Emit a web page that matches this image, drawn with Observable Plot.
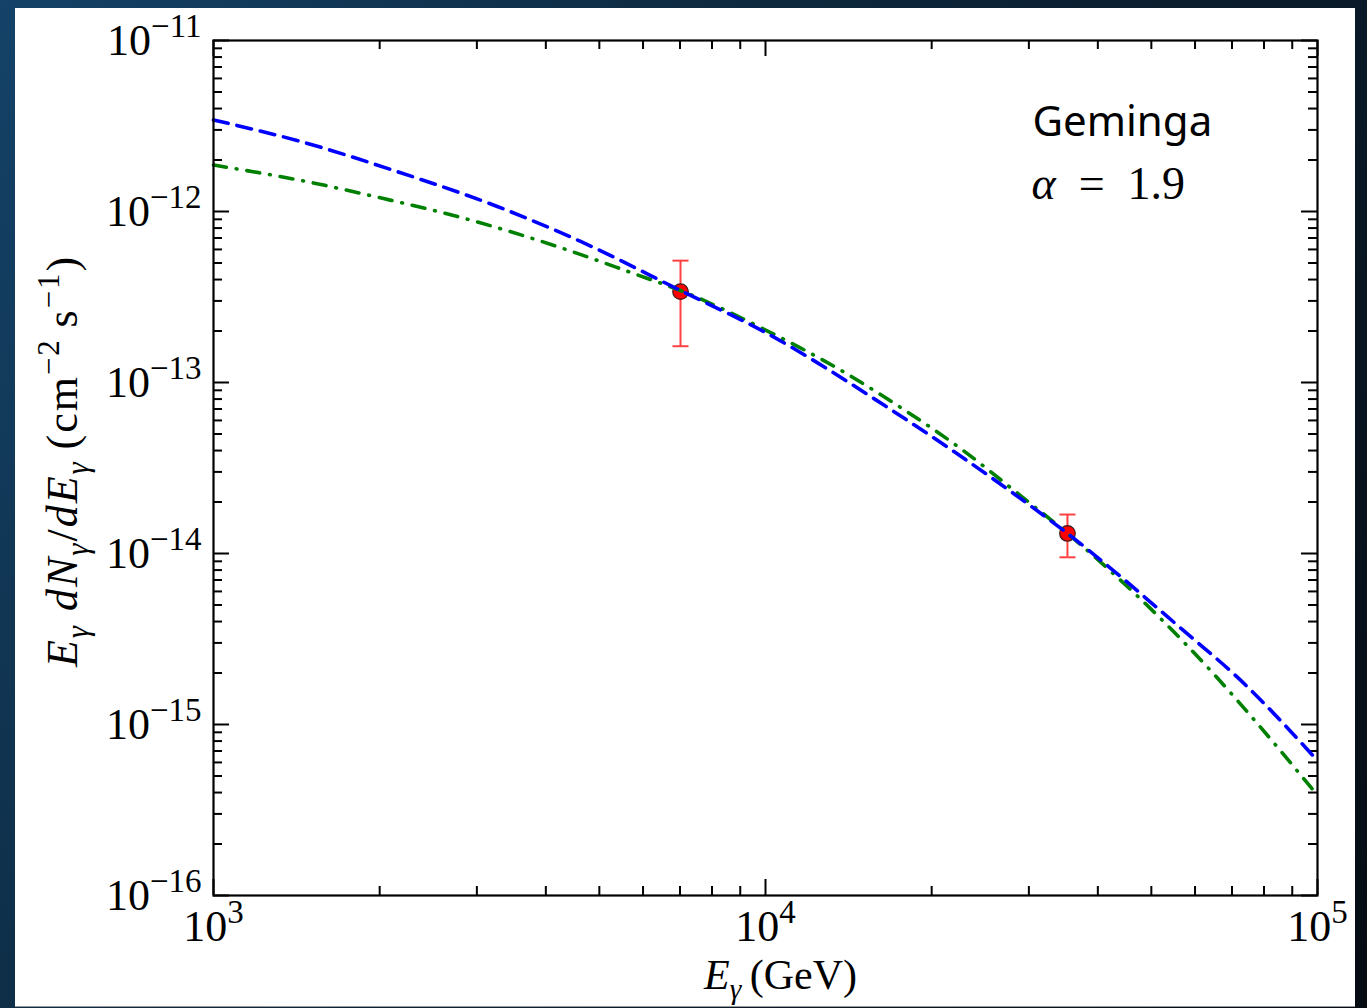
<!DOCTYPE html>
<html><head><meta charset="utf-8">
<script src="https://cdn.jsdelivr.net/npm/d3@7"></script>
<script src="https://cdn.jsdelivr.net/npm/@observablehq/plot@0.6"></script>
<style>
html,body{margin:0;padding:0;}
body{width:1367px;height:1008px;overflow:hidden;position:relative;
  background:linear-gradient(120deg,#144268 0%,#0d283d 40%,#060b12 100%);}
#panel{position:absolute;left:15px;top:8px;width:1340px;height:998px;background:#fff;border-bottom:1px solid #9a9a9a;}
</style></head><body><div id="panel"></div>
<script>
// ---- data ----
const blueE = [1000, 1455, 2153, 3266, 4624, 7015, 10000, 16634, 27797, 35237, 57148, 72611, 100000];
const blueF = [3.43e-12, 2.54e-12, 1.71e-12, 1.07e-12, 6.68e-13, 3.45e-13, 1.96e-13, 7.15e-14, 2.31e-14, 1.31e-14, 3.55e-15, 1.81e-15, 6.15e-16];
const greenE = [1000, 1499, 2032, 2721, 4252, 5767, 7015, 10212, 13505, 17565, 22560, 28970, 35240, 51950, 64010, 77870, 100000];
const greenF = [1.87e-12, 1.48e-12, 1.19e-12, 9.48e-13, 6.15e-13, 4.34e-13, 3.45e-13, 1.96e-13, 1.21e-13, 7.15e-14, 4.11e-14, 2.18e-14, 1.31e-14, 4.17e-15, 2.07e-15, 1.01e-15, 3.85e-16];
const pointE  = [7015, 35240];
const pointF  = [3.40e-13, 1.31e-14];
const pointLo = [1.63e-13, 9.5e-15];
const pointHi = [5.16e-13, 1.69e-14];
const xMajor = [1e3, 1e4, 1e5];
const xTickExp = ["3", "4", "5"];
const yMajor = [1e-16, 1e-15, 1e-14, 1e-13, 1e-12, 1e-11];
const yTickExp = ["\u221216", "\u221215", "\u221214", "\u221213", "\u221212", "\u221211"];
const xLabel = "E_\u03b3 (GeV)";
const yLabel = "E_\u03b3 dN_\u03b3/dE_\u03b3 (cm^\u22122 s^\u22121)";
const sourceName = "Geminga";
const alphaText = "\u03b1 = 1.9";

// ---- build ----
const blue = blueE.map((e, i) => ({E: e, F: blueF[i]}));
const green = greenE.map((e, i) => ({E: e, F: greenF[i]}));
const pts = pointE.map((e, i) => ({E: e, F: pointF[i], lo: pointLo[i], hi: pointHi[i]}));
const xMinor = d3.scaleLog().domain([1e3, 1e5]).ticks().filter(v => !xMajor.some(m => Math.abs(m - v) / m < 1e-9));
const yMinor = d3.scaleLog().domain([1e-16, 1e-11]).ticks().filter(v => !yMajor.some(m => Math.abs(m - v) / m < 1e-9));

const W = 1340, H = 998, mL = 198, mR = 38, mT = 32, mB = 111;
const iw = W - mL - mR, ih = H - mT - mB;
const MAJ = 16, MIN = 9;
const serif = "'Liberation Serif', 'DejaVu Serif', serif";
const tickStyle = {stroke: "#000", strokeWidth: 2};
const capSymbol = {draw(ctx, size) { const r = Math.sqrt(size / Math.PI); ctx.moveTo(-r, 0); ctx.lineTo(r, 0); }};
const errColor = "#ff4040";

const chart = Plot.plot({
  width: W, height: H, marginLeft: mL, marginRight: mR, marginTop: mT, marginBottom: mB,
  style: {background: "transparent", fontFamily: serif, color: "#000"},
  x: {type: "log", domain: [1e3, 1e5]},
  y: {type: "log", domain: [1e-16, 1e-11]},
  marks: [
    // ticks (inward, all four sides)
    Plot.ruleY(yMajor, {...tickStyle, insetRight: iw - MAJ}),
    Plot.ruleY(yMajor, {...tickStyle, insetLeft: iw - MAJ}),
    Plot.ruleY(yMinor, {...tickStyle, insetRight: iw - MIN}),
    Plot.ruleY(yMinor, {...tickStyle, insetLeft: iw - MIN}),
    Plot.ruleX(xMajor, {...tickStyle, insetTop: ih - MAJ}),
    Plot.ruleX(xMajor, {...tickStyle, insetBottom: ih - MAJ}),
    Plot.ruleX(xMinor, {...tickStyle, insetTop: ih - MIN}),
    Plot.ruleX(xMinor, {...tickStyle, insetBottom: ih - MIN}),
    Plot.axisX(xMajor, {tickSize: 0, tickPadding: 14, fontSize: 44, label: null,
      tickFormat: d => "10^" + xTickExp[xMajor.indexOf(d)]}),
    Plot.axisY(yMajor, {tickSize: 0, tickPadding: 12, fontSize: 44, label: null,
      tickFormat: d => "10^" + yTickExp[yMajor.indexOf(d)]}),
    // data
    Plot.ruleX(pts, {x: "E", y1: "lo", y2: "hi", stroke: errColor, strokeWidth: 2}),
    Plot.dot(pts, {x: "E", y: "lo", r: 8, symbol: capSymbol, stroke: errColor, strokeWidth: 2, fill: "none"}),
    Plot.dot(pts, {x: "E", y: "hi", r: 8, symbol: capSymbol, stroke: errColor, strokeWidth: 2, fill: "none"}),
    Plot.dot(pts, {x: "E", y: "F", r: 7.8, fill: "#ff0000", stroke: "#3a1a1a", strokeWidth: 1.2}),
    Plot.line(green, {x: "E", y: "F", stroke: "#008000", strokeWidth: 3.6, strokeDasharray: "13,10,0.8,10", curve: "monotone-x"}),
    Plot.line(blue, {x: "E", y: "F", stroke: "#0000ff", strokeWidth: 3.6, strokeDasharray: "15,9", curve: "monotone-x"}),
    Plot.frame({stroke: "#000", strokeWidth: 2.2}),
    // annotations
    Plot.text([sourceName], {text: d => d, frameAnchor: "top-right", dx: -285, dy: 95, textAnchor: "start", lineAnchor: "bottom",
      fontSize: 42, fontFamily: "'Noto Sans', 'DejaVu Sans', sans-serif", fill: "#000"}),
    Plot.text([alphaText], {text: d => d, frameAnchor: "top-right", dx: -286, dy: 158, textAnchor: "start", lineAnchor: "bottom",
      fontSize: 46, fontFamily: serif, fill: "#000"}),
    Plot.text([xLabel], {text: d => d, frameAnchor: "bottom", dx: 15, dy: 93, lineAnchor: "bottom",
      fontSize: 42, fontFamily: serif, fill: "#000"}),
    Plot.text([yLabel], {text: d => d, frameAnchor: "left", textAnchor: "middle", dx: -151, dy: -7, rotate: -90, lineAnchor: "middle",
      fontSize: 44, fontFamily: serif, fill: "#000", letterSpacing: 2})
  ]
});

// ---- rich text (sub/superscripts, italics) ----
const NS = "http://www.w3.org/2000/svg";
function rich(el, parts, fs, supScale = 0.7) {
  el.textContent = "";
  let cur = 0;
  for (const [t, s] of parts) {
    const ts = document.createElementNS(NS, "tspan");
    ts.textContent = t;
    let shift = 0, size = fs;
    if (s.includes("sub")) { shift = 0.26 * fs; size = 0.7 * fs; }
    if (s.includes("sup")) { shift = -0.4 * fs; size = supScale * fs; }
    if (s.startsWith("i")) ts.setAttribute("font-style", "italic");
    ts.setAttribute("font-size", size);
    if (shift !== cur) { ts.setAttribute("dy", shift - cur); cur = shift; }
    el.appendChild(ts);
  }
}
chart.querySelectorAll("text").forEach(el => {
  const s = el.textContent;
  if (s.startsWith("10^")) {
    rich(el, [["10", "n"], [s.slice(3), "sup"]], 44, 0.75);
  } else if (s === xLabel) {
    rich(el, [["E", "i"], ["\u03b3", "isub"], ["\u2009(GeV)", "n"]], 42);
  } else if (s === yLabel) {
    el.setAttribute("letter-spacing", "2");
    rich(el, [["E", "i"], ["\u03b3", "isub"], [" ", "n"], ["dN", "i"], ["\u03b3", "isub"], ["/", "n"],
      ["dE", "i"], ["\u03b3", "isub"], ["\u2009(cm", "n"], ["\u22122", "sup"], ["\u2009s", "n"], ["\u22121", "sup"], [")", "n"]], 44);
  } else if (s === alphaText) {
    rich(el, [["\u03b1", "i"], ["\u2002=\u20021.9", "n"]], 46);
  }
});
document.getElementById("panel").appendChild(chart);
</script>
</body></html>
